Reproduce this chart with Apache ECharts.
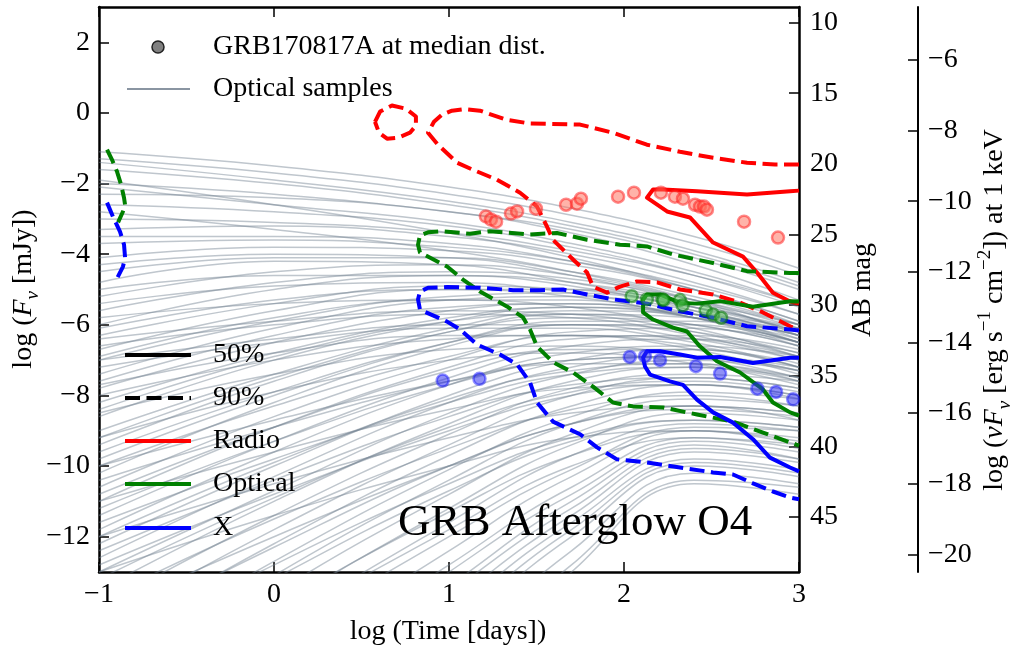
<!DOCTYPE html>
<html>
<head>
<meta charset="utf-8">
<script src="https://cdn.jsdelivr.net/npm/echarts@6/dist/echarts.min.js"></script>
<style>html,body{margin:0;padding:0;background:#fff}#c{width:1010px;height:653px}</style>
</head>
<body>
<div id="c"></div>
<script>
// ---------- data ----------
const xTicks = [-1, 0, 1, 2, 3];
const fluxTicks = [-12, -10, -8, -6, -4, -2, 0, 2];
const magTicks = [10, 15, 20, 25, 30, 35, 40, 45];
const nuFnuTicks = [-20, -18, -16, -14, -12, -10, -8, -6];

// optical sample light curves, values at these log-times
const sampleTimes = [-1, 0, 1, 1.7, 2.4, 3];
const sampleCurves = [
  [-1.1,-1.5,-2.1,-2.7,-3.5,-4.4],[-1.3,-1.7,-2.3,-2.9,-3.7,-4.6],[-1.6,-2.0,-2.6,-3.2,-4.0,-4.9],
  [-2.0,-2.3,-2.8,-3.3,-4.1,-5.0],[-2.3,-2.4,-2.8,-3.4,-4.3,-5.3],[-2.6,-2.8,-3.2,-3.8,-4.6,-5.5],
  [-3.0,-3.1,-3.4,-3.9,-4.6,-5.4],[-3.3,-3.2,-3.5,-4.0,-4.8,-5.7],[-3.7,-3.6,-3.8,-4.2,-4.9,-5.7],
  [-4.1,-3.8,-3.9,-4.3,-5.0,-5.9],[-4.5,-4.1,-4.1,-4.5,-5.2,-6.0],[-2.8,-3.3,-3.9,-4.5,-5.3,-6.3],
  [-1.9,-2.6,-3.4,-4.1,-5.0,-6.0],[-4.8,-4.2,-4.3,-4.8,-5.5,-6.4],
  [-1.4,-1.9,-2.5,-3.1,-3.9,-4.8],[-2.1,-2.6,-3.1,-3.7,-4.5,-5.4],[-3.5,-3.5,-3.7,-4.2,-5.0,-5.9],
  [-4.3,-4.0,-4.1,-4.6,-5.4,-6.2],
  [-5.2,-4.5,-4.3,-4.6,-5.3,-6.1],[-5.6,-4.8,-4.5,-4.7,-5.3,-6.0],[-6.0,-5.0,-4.6,-4.8,-5.4,-6.2],
  [-6.3,-5.4,-4.9,-5.0,-5.5,-6.2],[-6.7,-5.6,-5.0,-5.0,-5.4,-6.0],[-7.0,-5.9,-5.2,-5.1,-5.5,-6.1],
  [-7.4,-6.1,-5.3,-5.2,-5.6,-6.3],[-7.8,-6.5,-5.6,-5.4,-5.7,-6.3],[-8.2,-6.8,-5.8,-5.5,-5.7,-6.2],
  [-8.6,-7.0,-5.9,-5.5,-5.8,-6.4],[-5.8,-5.4,-5.3,-5.5,-6.1,-6.9],[-6.6,-6.0,-5.7,-5.8,-6.3,-7.0],
  [-7.2,-6.5,-6.1,-6.1,-6.5,-7.2],[-8.0,-7.0,-6.4,-6.3,-6.6,-7.2],
  [-5.0,-4.6,-4.6,-4.9,-5.6,-6.5],[-5.4,-4.9,-4.8,-5.1,-5.7,-6.5],[-6.1,-5.3,-5.0,-5.2,-5.8,-6.6],
  [-6.9,-5.8,-5.3,-5.3,-5.8,-6.5],[-7.6,-6.3,-5.5,-5.4,-5.8,-6.5],[-8.4,-6.9,-5.9,-5.7,-6.0,-6.6],
  [-6.4,-5.9,-5.6,-5.7,-6.2,-6.9],[-7.0,-6.4,-6.0,-6.0,-6.4,-7.0],[-7.7,-6.8,-6.3,-6.3,-6.7,-7.4],
  [-8.5,-7.4,-6.7,-6.6,-6.9,-7.5],[-9.2,-7.9,-7.0,-6.8,-7.1,-7.7],
  [-9.0,-7.4,-6.1,-5.6,-5.7,-6.1],[-9.4,-7.6,-6.2,-5.7,-5.8,-6.3],[-9.8,-8.0,-6.5,-5.9,-5.9,-6.3],
  [-10.2,-8.2,-6.6,-6.0,-6.0,-6.5],[-10.6,-8.6,-7.0,-6.2,-6.1,-6.5],[-11.0,-8.9,-7.2,-6.4,-6.3,-6.7],
  [-11.4,-9.3,-7.5,-6.6,-6.4,-6.8],[-11.8,-9.6,-7.7,-6.8,-6.6,-6.9],[-12.2,-10.0,-8.0,-7.0,-6.7,-7.1],
  [-12.6,-10.3,-8.2,-7.2,-6.9,-7.2],[-13.0,-10.7,-8.5,-7.4,-7.0,-7.3],[-13.5,-11.0,-8.8,-7.6,-7.2,-7.5],
  [-14.0,-11.4,-9.1,-7.8,-7.4,-7.6],[-14.5,-11.8,-9.4,-8.0,-7.5,-7.8],[-15.0,-12.2,-9.7,-8.3,-7.7,-8.0],
  [-15.6,-12.7,-10.1,-8.6,-7.9,-8.1],[-16.2,-13.1,-10.4,-8.8,-8.1,-8.3],[-16.8,-13.6,-10.8,-9.1,-8.3,-8.5],
  [-17.4,-14.1,-11.2,-9.4,-8.5,-8.7],[-18.0,-14.6,-11.6,-9.7,-8.8,-9.0],[-11.6,-9.8,-8.2,-7.4,-7.2,-7.6],
  [-12.8,-10.8,-9.0,-8.0,-7.7,-8.0],[-14.2,-12.0,-10.0,-8.8,-8.4,-8.6],[-10.4,-8.9,-7.6,-7.0,-6.9,-7.3],
  [-9.2,-7.5,-6.2,-5.8,-6.0,-6.6],[-9.6,-7.9,-6.5,-6.0,-6.2,-6.8],[-10.0,-8.3,-6.9,-6.3,-6.4,-6.9],
  [-10.8,-8.9,-7.3,-6.7,-6.7,-7.2],[-11.2,-9.3,-7.7,-7.0,-6.9,-7.3],[-12.0,-9.9,-8.1,-7.3,-7.1,-7.5],
  [-12.4,-10.4,-8.6,-7.7,-7.5,-7.8],[-13.2,-10.9,-8.9,-7.9,-7.6,-7.9],[-13.8,-11.5,-9.5,-8.4,-8.0,-8.3],
  [-14.8,-12.3,-10.0,-8.8,-8.3,-8.5],[-15.4,-12.8,-10.5,-9.2,-8.7,-8.9],[-16.0,-13.2,-10.7,-9.3,-8.7,-8.9],
  [-17.0,-14.0,-11.3,-9.7,-9.0,-9.2],[-17.8,-14.6,-11.8,-10.0,-9.2,-9.4],[-10.0,-8.7,-7.6,-7.1,-7.1,-7.6],
  [-11.0,-9.6,-8.4,-7.8,-7.7,-8.1],[-12.0,-10.5,-9.2,-8.5,-8.3,-8.7],[-13.0,-11.4,-10.0,-9.2,-9.0,-9.4],
  [-20,-16.5,-13.0,-10.8,-9.3,-9.6],[-21,-17.3,-13.6,-11.2,-9.5,-9.8],[-22,-18.0,-14.2,-11.6,-9.8,-10.1],
  [-19,-15.6,-12.4,-10.3,-9.0,-9.3],[-23,-18.8,-14.8,-12.0,-10.0,-10.3],[-24,-19.6,-15.4,-12.4,-10.2,-10.5],
  [-18.5,-15.0,-12.0,-10.1,-8.9,-9.0],[-25,-20.3,-16.0,-12.8,-10.4,-10.6],
  [-19.5,-16.0,-12.8,-10.6,-9.2,-9.5],[-20.5,-16.9,-13.4,-11.0,-9.4,-9.8],[-21.5,-17.6,-13.9,-11.4,-9.6,-9.9],
  [-22.5,-18.4,-14.5,-11.8,-9.9,-10.2],[-26,-21.0,-16.4,-13.0,-10.5,-10.8]
];

// credible contours [logT, logF]
const radio90Small = [[0.577,-0.25],[0.606,0.04],[0.674,0.21],[0.754,0.12],[0.811,-0.1],[0.811,-0.36],[0.777,-0.56],[0.709,-0.70],[0.646,-0.73],[0.6,-0.56],[0.577,-0.25]];
const radio90 = [[3.0,-1.46],[2.863,-1.46],[2.703,-1.41],[2.509,-1.27],[2.32,-1.10],[2.131,-0.90],[1.937,-0.56],[1.749,-0.33],[1.463,-0.30],[1.326,-0.19],[1.177,0.065],[1.091,0.11],[1.017,0.065],[0.96,-0.05],[0.914,-0.25],[0.88,-0.56],[0.937,-0.90],[1.046,-1.41],[1.137,-1.61],[1.274,-1.89],[1.406,-2.26],[1.503,-2.65],[1.56,-3.22],[1.594,-3.59],[1.709,-4.15],[1.789,-4.52],[1.823,-4.92],[1.903,-5.09],[1.977,-4.92],[2.074,-4.77],[2.189,-4.80],[2.32,-5.00],[2.509,-5.14],[2.663,-5.37],[2.794,-5.65],[2.949,-6.04],[3.0,-6.15]];
const radio50 = [[3.0,-2.20],[2.949,-2.22],[2.703,-2.31],[2.417,-2.22],[2.223,-2.17],[2.166,-2.17],[2.131,-2.40],[2.246,-2.79],[2.377,-2.96],[2.509,-3.67],[2.68,-4.07],[2.76,-4.52],[2.851,-5.09],[2.949,-5.34],[3.0,-5.40]];
const optical90 = [[3.0,-4.53],[2.949,-4.53],[2.703,-4.48],[2.509,-4.25],[2.28,-4.01],[2.131,-3.78],[1.977,-3.73],[1.789,-3.59],[1.617,-3.40],[1.463,-3.44],[1.234,-3.35],[1.12,-3.42],[0.949,-3.35],[0.88,-3.38],[0.834,-3.47],[0.823,-3.73],[0.834,-3.95],[0.989,-4.35],[1.08,-4.72],[1.177,-5.06],[1.331,-5.48],[1.423,-5.79],[1.463,-6.13],[1.503,-6.61],[1.594,-7.06],[1.709,-7.35],[1.823,-7.75],[1.937,-8.20],[2.051,-8.31],[2.223,-8.34],[2.417,-8.54],[2.623,-8.74],[2.794,-9.05],[2.949,-9.33],[3.0,-9.42]];
const optical50 = [[3.0,-5.34],[2.949,-5.33],[2.737,-5.49],[2.549,-5.33],[2.417,-5.40],[2.32,-5.38],[2.206,-5.14],[2.131,-5.14],[2.109,-5.29],[2.109,-5.65],[2.166,-5.85],[2.28,-6.08],[2.36,-6.19],[2.434,-6.61],[2.531,-7.03],[2.663,-7.35],[2.794,-7.83],[2.851,-8.20],[2.949,-8.48],[3.0,-8.57]];
const xray90 = [[3.0,-6.16],[2.949,-6.13],[2.703,-6.04],[2.509,-5.80],[2.32,-5.62],[2.131,-5.40],[1.937,-5.28],[1.789,-5.14],[1.651,-5.00],[1.52,-5.02],[1.366,-5.02],[1.177,-4.95],[0.989,-4.93],[0.88,-4.95],[0.834,-5.06],[0.823,-5.28],[0.834,-5.57],[0.989,-5.91],[1.063,-6.13],[1.16,-6.56],[1.291,-6.84],[1.389,-7.12],[1.463,-7.63],[1.503,-8.20],[1.594,-8.74],[1.749,-9.10],[1.846,-9.47],[1.96,-9.81],[2.131,-9.90],[2.32,-10.04],[2.509,-10.18],[2.623,-10.24],[2.737,-10.49],[2.851,-10.72],[2.949,-10.89],[3.0,-10.94]];
const xray50 = [[3.0,-6.93],[2.949,-6.93],[2.737,-7.08],[2.549,-6.91],[2.417,-6.93],[2.32,-6.84],[2.206,-6.75],[2.131,-6.75],[2.109,-6.93],[2.12,-7.18],[2.149,-7.41],[2.263,-7.60],[2.337,-7.70],[2.417,-8.12],[2.509,-8.48],[2.623,-8.77],[2.737,-9.24],[2.834,-9.76],[2.949,-10.04],[3.0,-10.15]];
const optical90Early = [[-0.954,-1.04],[-0.926,-1.32],[-0.897,-1.66],[-0.874,-2.03],[-0.857,-2.40],[-0.851,-2.60],[-0.863,-2.79],[-0.891,-3.10]];
const xray90Early = [[-0.954,-2.54],[-0.92,-2.94],[-0.88,-3.36],[-0.857,-3.73],[-0.851,-4.10],[-0.863,-4.35],[-0.897,-4.69]];

// GRB170817A at median distance
const radioDots = [[1.211,-2.93],[1.24,-3.02],[1.269,-3.08],[1.354,-2.85],[1.389,-2.79],[1.497,-2.71],[1.669,-2.60],[1.731,-2.57],[1.754,-2.43],[1.966,-2.37],[2.057,-2.26],[2.211,-2.26],[2.291,-2.37],[2.337,-2.43],[2.406,-2.60],[2.434,-2.65],[2.457,-2.65],[2.474,-2.74],[2.686,-3.08],[2.88,-3.53]];
const opticalDots = [[2.044,-5.19],[2.131,-5.28],[2.22,-5.28],[2.226,-5.30],[2.32,-5.30],[2.335,-5.45],[2.467,-5.59],[2.509,-5.71],[2.555,-5.80]];
const xrayDots = [[0.964,-7.58],[1.174,-7.53],[2.033,-6.91],[2.12,-6.89],[2.206,-7.00],[2.411,-7.17],[2.549,-7.38],[2.762,-7.81],[2.869,-7.90],[2.967,-8.11]];

// ---------- chart ----------
const FONT = 'Liberation Serif';
const FONT28 = '28px "Liberation Serif"';
const minus = v => String(v).replace('-', '\u2212');
const chart = echarts.init(document.getElementById('c'), null, {renderer: 'canvas'});

const DASH = [15, 6.5];
function contour(data, color, dashed) {
  return {type: 'line', data: data, xAxisIndex: 0, yAxisIndex: 0, showSymbol: false, silent: true,
    animation: false, z: 5, lineStyle: {color: color, width: 4, type: dashed ? DASH : 'solid', cap: 'butt', join: 'round'}};
}
function dots(data, fill, edge) {
  return {type: 'scatter', data: data, xAxisIndex: 0, yAxisIndex: 0, symbol: 'circle', symbolSize: 12,
    silent: true, animation: false, z: 8, itemStyle: {color: fill, borderColor: edge, borderWidth: 2.5}};
}

const series = [];
sampleCurves.forEach(c => {
  series.push({type: 'line', data: sampleTimes.map((t, i) => [t, c[i]]), smooth: 0.45, showSymbol: false,
    silent: true, animation: false, z: 1, lineStyle: {color: '#708090', width: 1.5, opacity: 0.45}});
});
series.push(contour(radio90Small, '#ff0000', true));
series.push(contour(radio90, '#ff0000', true));
series.push(contour(radio50, '#ff0000', false));
series.push(contour(optical90, '#008000', true));
series.push(contour(optical50, '#008000', false));
series.push(contour(xray90, '#0000ff', true));
series.push(contour(xray50, '#0000ff', false));
series.push(contour(optical90Early, '#008000', true));
series.push(contour(xray90Early, '#0000ff', true));
series.push(dots(radioDots, 'rgba(255,110,90,0.65)', 'rgba(255,30,30,0.65)'));
series.push(dots(opticalDots, 'rgba(80,190,80,0.6)', 'rgba(0,120,0,0.65)'));
series.push(dots(xrayDots, 'rgba(40,40,240,0.65)', 'rgba(20,20,255,0.6)'));

const lineBlack = {show: true, onZero: false, lineStyle: {color: '#000', width: 2.5}};
const tickStyle = {show: true, inside: true, length: 10, lineStyle: {color: '#000', width: 1.5}};

function txt(x, y, text, align, font) {
  return {type: 'text', x: x, y: y, z: 20, silent: true, style: {text: text, font: font || FONT28, fill: '#000',
    align: align, verticalAlign: 'middle', textAlign: align, textVerticalAlign: 'middle'}};
}
function legLine(y, color, dash) {
  return {type: 'line', z: 20, silent: true, shape: {x1: 125, y1: y, x2: 191, y2: y},
    style: {stroke: color, lineWidth: 4, lineDash: dash || null}};
}

const baseGraphics = [
  {type: 'circle', shape: {cx: 158, cy: 47, r: 6}, style: {fill: '#808080', stroke: '#222', lineWidth: 1.5}, z: 20},
  txt(213, 47, 'GRB170817A at median dist.', 'left'),
  {type: 'line', shape: {x1: 127, y1: 89, x2: 190, y2: 89}, style: {stroke: '#8a95a2', lineWidth: 2}, z: 20},
  txt(213, 89, 'Optical samples', 'left'),
  legLine(355, '#000'), txt(213, 355, '50%', 'left'),
  legLine(398, '#000', [15, 6.5]), txt(213, 398, '90%', 'left'),
  legLine(441, '#ff0000'), txt(213, 441, 'Radio', 'left'),
  legLine(484, '#008000'), txt(213, 484, 'Optical', 'left'),
  legLine(528, '#0000ff'), txt(213, 528, 'X', 'left'),
  txt(398, 523, 'GRB Afterglow O4', 'left', '45px "Liberation Serif"'),
  txt(448, 632, 'log (Time [days])', 'center'),
  {type: 'text', x: 24, y: 289, rotation: Math.PI / 2, z: 20, style: {
    text: '{t|log (}{i|F}{s|ν}{t| [mJy])}', align: 'center', verticalAlign: 'middle', textAlign: 'center', textVerticalAlign: 'middle',
    rich: {t: {fontFamily: FONT, fontSize: 28, fill: '#000', lineHeight: 36, verticalAlign: 'middle'},
           i: {fontFamily: FONT, fontSize: 28, fontStyle: 'italic', fill: '#000', lineHeight: 36, verticalAlign: 'middle'},
           s: {fontFamily: FONT, fontSize: 19, fontStyle: 'italic', fill: '#000', lineHeight: 20, verticalAlign: 'bottom'}}}},
  {type: 'text', x: 863, y: 290, rotation: Math.PI / 2, z: 20, style: {text: 'AB mag', font: FONT28, fill: '#000', align: 'center', verticalAlign: 'middle', textAlign: 'center', textVerticalAlign: 'middle'}},
  {type: 'text', x: 995, y: 310, rotation: Math.PI / 2, z: 20, style: {
    text: '{t|log (}{i|νF}{s|ν}{t| [erg s}{u|−1}{t| cm}{u|−2}{t|]) at 1 keV}', align: 'center', verticalAlign: 'middle', textAlign: 'center', textVerticalAlign: 'middle',
    rich: {t: {fontFamily: FONT, fontSize: 28, fill: '#000', lineHeight: 38, verticalAlign: 'middle'},
           i: {fontFamily: FONT, fontSize: 28, fontStyle: 'italic', fill: '#000', lineHeight: 38, verticalAlign: 'middle'},
           s: {fontFamily: FONT, fontSize: 19, fontStyle: 'italic', fill: '#000', lineHeight: 20, verticalAlign: 'bottom'},
           u: {fontFamily: FONT, fontSize: 19, fill: '#000', lineHeight: 20, verticalAlign: 'top'}}}}
];

const option = {
  backgroundColor: '#fff',
  animation: false,
  grid: {left: 99, right: 211, top: 7, bottom: 81, containLabel: false},
  xAxis: [
    {type: 'value', position: 'bottom', min: -1, max: 3, interval: 1,
      axisLine: lineBlack, axisTick: tickStyle, splitLine: {show: false}, axisLabel: {show: false}},
    {type: 'value', position: 'top', min: -1, max: 3, interval: 1,
      axisLine: lineBlack, axisTick: tickStyle, splitLine: {show: false}, axisLabel: {show: false}}
  ],
  yAxis: [
    {type: 'value', position: 'left', min: -13, max: 3,
      axisLine: lineBlack, splitLine: {show: false},
      axisTick: Object.assign({customValues: fluxTicks}, tickStyle), axisLabel: {show: false}},
    {type: 'value', position: 'right', min: 8.9, max: 48.9, inverse: true,
      axisLine: lineBlack, splitLine: {show: false},
      axisTick: Object.assign({customValues: magTicks}, tickStyle), axisLabel: {show: false}},
    {type: 'value', position: 'right', offset: 119, min: -20.5, max: -4.5,
      axisLine: {show: true, onZero: false, lineStyle: {color: '#000', width: 2}}, splitLine: {show: false},
      axisTick: Object.assign({customValues: nuFnuTicks}, tickStyle), axisLabel: {show: false}}
  ],
  series: series,
  graphic: {elements: baseGraphics}
};
chart.setOption(option);

// tick labels positioned through the axes' own scales
const tickLabels = [];
xTicks.forEach(v => tickLabels.push(txt(chart.convertToPixel({xAxisIndex: 0}, v), 595, minus(v), 'center')));
fluxTicks.forEach(v => tickLabels.push(txt(90, chart.convertToPixel({yAxisIndex: 0}, v), minus(v), 'right')));
magTicks.forEach(v => tickLabels.push(txt(810, chart.convertToPixel({yAxisIndex: 1}, v), minus(v), 'left')));
nuFnuTicks.forEach(v => tickLabels.push(txt(928, chart.convertToPixel({yAxisIndex: 2}, v), minus(v), 'left')));
chart.setOption({graphic: {elements: baseGraphics.concat(tickLabels)}});
</script>
</body>
</html>
